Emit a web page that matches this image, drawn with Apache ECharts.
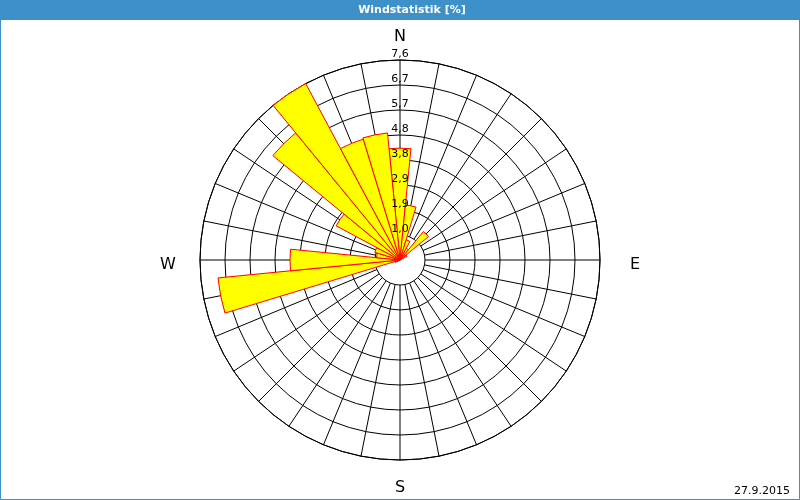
<!DOCTYPE html>
<html>
<head>
<meta charset="utf-8">
<script src="https://cdn.jsdelivr.net/npm/echarts@6/dist/echarts.min.js"></script>
<style>
html,body{margin:0;padding:0;background:#fff;}
#c{width:800px;height:500px;}
</style>
</head>
<body>
<div id="c"></div>
<script>
// 32 wind directions (degrees, clockwise from North)
var directions = ['0','11.25','22.5','33.75','45','56.25','67.5','78.75',
  '90','101.25','112.5','123.75','135','146.25','157.5','168.75',
  '180','191.25','202.5','213.75','225','236.25','247.5','258.75',
  '270','281.25','292.5','303.75','315','326.25','337.5','348.75'];
// frequency in percent
var frequency = [4.25, 2.1, 0.8, 0.5, 1.4, 0.3, 0, 0,
  0, 0, 0, 0, 0, 0, 0, 0,
  0, 0, 0, 0, 0, 0, 0.2, 6.95,
  4.18, 0.9, 1.0, 2.75, 6.25, 7.6, 4.8, 4.85];
// radial ring values
var ringMin = 0.95, ringStep = 0.95, ringMax = 7.6;
var compass = ['N', 'E', 'S', 'W'];
var titleText = 'Windstatistik [%]';
var dateText = '27.9.2015';

var chart = echarts.init(document.getElementById('c'));
var blue = '#3d90c8';
var ctr = [400, 260];
function fmt(v) { return (Math.round(v * 10) / 10).toFixed(1).replace('.', ','); }
var ringColors = ['rgba(0,0,0,0)'];
for (var i = 1; i < 8; i++) ringColors.push('#000');

var option = {
  animation: false,
  backgroundColor: '#fff',
  polar: [
    { center: ctr, radius: [25, 200] },
    { center: ctr, radius: [0, 200] },
    { center: ctr, radius: [25, 200] }
  ],
  angleAxis: [
    { polarIndex: 0, type: 'value', min: 0, max: 360, interval: 11.25, startAngle: 90, clockwise: true,
      axisLine: { show: true, lineStyle: { color: '#000', width: 1 } },
      axisTick: { show: false }, axisLabel: { show: false },
      splitLine: { show: true, lineStyle: { color: '#000', width: 1 } } },
    { polarIndex: 1, type: 'category', data: directions, startAngle: 90 + 5.625, clockwise: true,
      axisLine: { show: false }, axisTick: { show: false }, axisLabel: { show: false },
      splitLine: { show: false } },
    { polarIndex: 2, type: 'value', min: 0, max: 360, startAngle: 90,
      axisLine: { show: false }, axisTick: { show: false }, axisLabel: { show: false },
      splitLine: { show: false } }
  ],
  radiusAxis: [
    { polarIndex: 0, type: 'value', min: ringMin, max: ringMax, interval: ringStep,
      axisLine: { show: false }, axisTick: { show: false }, axisLabel: { show: false },
      splitLine: { show: true, lineStyle: { color: ringColors, width: 1 } } },
    { polarIndex: 1, type: 'value', min: 0, max: ringMax,
      axisLine: { show: false }, axisTick: { show: false }, axisLabel: { show: false },
      splitLine: { show: false } },
    { polarIndex: 2, type: 'value', min: ringMin, max: ringMax, interval: ringStep, z: 10,
      axisLine: { show: false }, axisTick: { show: false },
      axisLabel: { show: true, showMinLabel: true, showMaxLabel: true, margin: 0, align: 'center', verticalAlign: 'bottom',
        color: '#000', fontFamily: 'DejaVu Sans', fontSize: 11, formatter: fmt },
      splitLine: { show: false } }
  ],
  series: [{
    type: 'bar', coordinateSystem: 'polar', polarIndex: 1,
    data: frequency, barCategoryGap: '0%',
    itemStyle: { color: '#ffff00', borderColor: '#ff0000', borderWidth: 1 }
  }],
  graphic: [
    { type: 'rect', shape: { x: 0, y: 0, width: 800, height: 20 }, style: { fill: blue }, z: 20 },
    { type: 'rect', shape: { x: 0.5, y: 0.5, width: 799, height: 499 }, style: { fill: 'none', stroke: blue, lineWidth: 1 }, z: 20 },
    { type: 'text', x: 412, y: 10, z: 21, style: { text: titleText, fill: '#fff', font: 'bold 11px "DejaVu Sans"', textAlign: 'center', textVerticalAlign: 'middle' } },
    { type: 'text', x: 790, y: 491, z: 21, style: { text: dateText, fill: '#000', font: '11px "DejaVu Sans"', textAlign: 'right', textVerticalAlign: 'middle' } },
    { type: 'text', x: 400, y: 37, z: 21, style: { text: compass[0], fill: '#000', font: '16px "DejaVu Sans"', textAlign: 'center', textVerticalAlign: 'middle' } },
    { type: 'text', x: 635, y: 265, z: 21, style: { text: compass[1], fill: '#000', font: '16px "DejaVu Sans"', textAlign: 'center', textVerticalAlign: 'middle' } },
    { type: 'text', x: 400, y: 488, z: 21, style: { text: compass[2], fill: '#000', font: '16px "DejaVu Sans"', textAlign: 'center', textVerticalAlign: 'middle' } },
    { type: 'text', x: 168, y: 265, z: 21, style: { text: compass[3], fill: '#000', font: '16px "DejaVu Sans"', textAlign: 'center', textVerticalAlign: 'middle' } }
  ]
};
chart.setOption(option);
</script>
</body>
</html>
